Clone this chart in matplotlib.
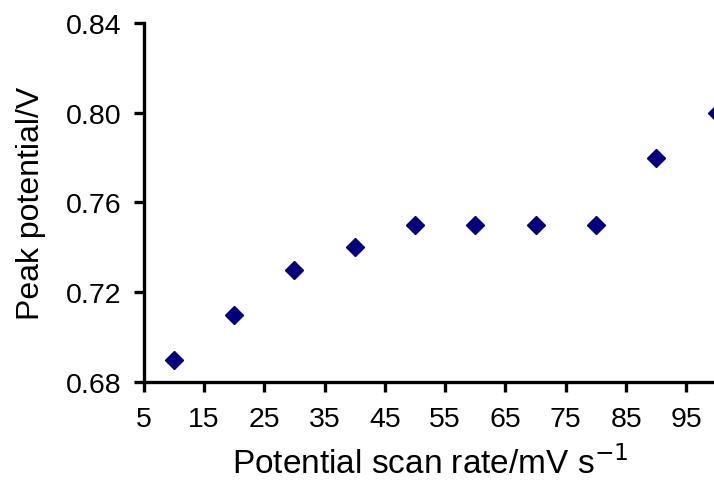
import numpy as np
import matplotlib as mpl
import matplotlib.pyplot as plt

mpl.rcParams['font.family'] = ['Liberation Sans', 'DejaVu Sans']

scan_rate = [10, 20, 30, 40, 50, 60, 70, 80, 90, 100]
peak_potential = [0.69, 0.71, 0.73, 0.74, 0.75, 0.75, 0.75, 0.75, 0.78, 0.80]
x_ticks = [5, 15, 25, 35, 45, 55, 65, 75, 85, 95]
y_ticks = [0.68, 0.72, 0.76, 0.80, 0.84]

W, H = 714, 489
fig = plt.figure(figsize=(W / 100, H / 100), dpi=100)
left, right, top, bottom = 143.6, 716.6, 24, 383
ax = fig.add_axes([left / W, (H - bottom) / H, (right - left) / W, (bottom - top) / H])

ax.plot(scan_rate, peak_potential, ls='', marker='D', ms=9.5, color='#000080',
        clip_on=False)

ax.set_xlim(5, 100)
ax.set_ylim(0.68, 0.84)
ax.set_xticks(x_ticks)
ax.set_yticks(y_ticks)
ax.set_yticklabels(['{:.2f}'.format(v) for v in y_ticks])

for side in ['top', 'right']:
    ax.spines[side].set_visible(False)
for side in ['left', 'bottom']:
    ax.spines[side].set_linewidth(2.4)
ax.tick_params(direction='out', length=7, width=2.4, labelsize=20.5)
ax.tick_params(axis='y', pad=9)
ax.tick_params(axis='x', pad=10)

ax.set_xlabel('Potential scan rate/mV s$^{-1}$', fontsize=24, labelpad=10)
ax.set_ylabel('Peak potential/V', fontsize=23, labelpad=14)

fig.savefig('out.png', dpi=100)
